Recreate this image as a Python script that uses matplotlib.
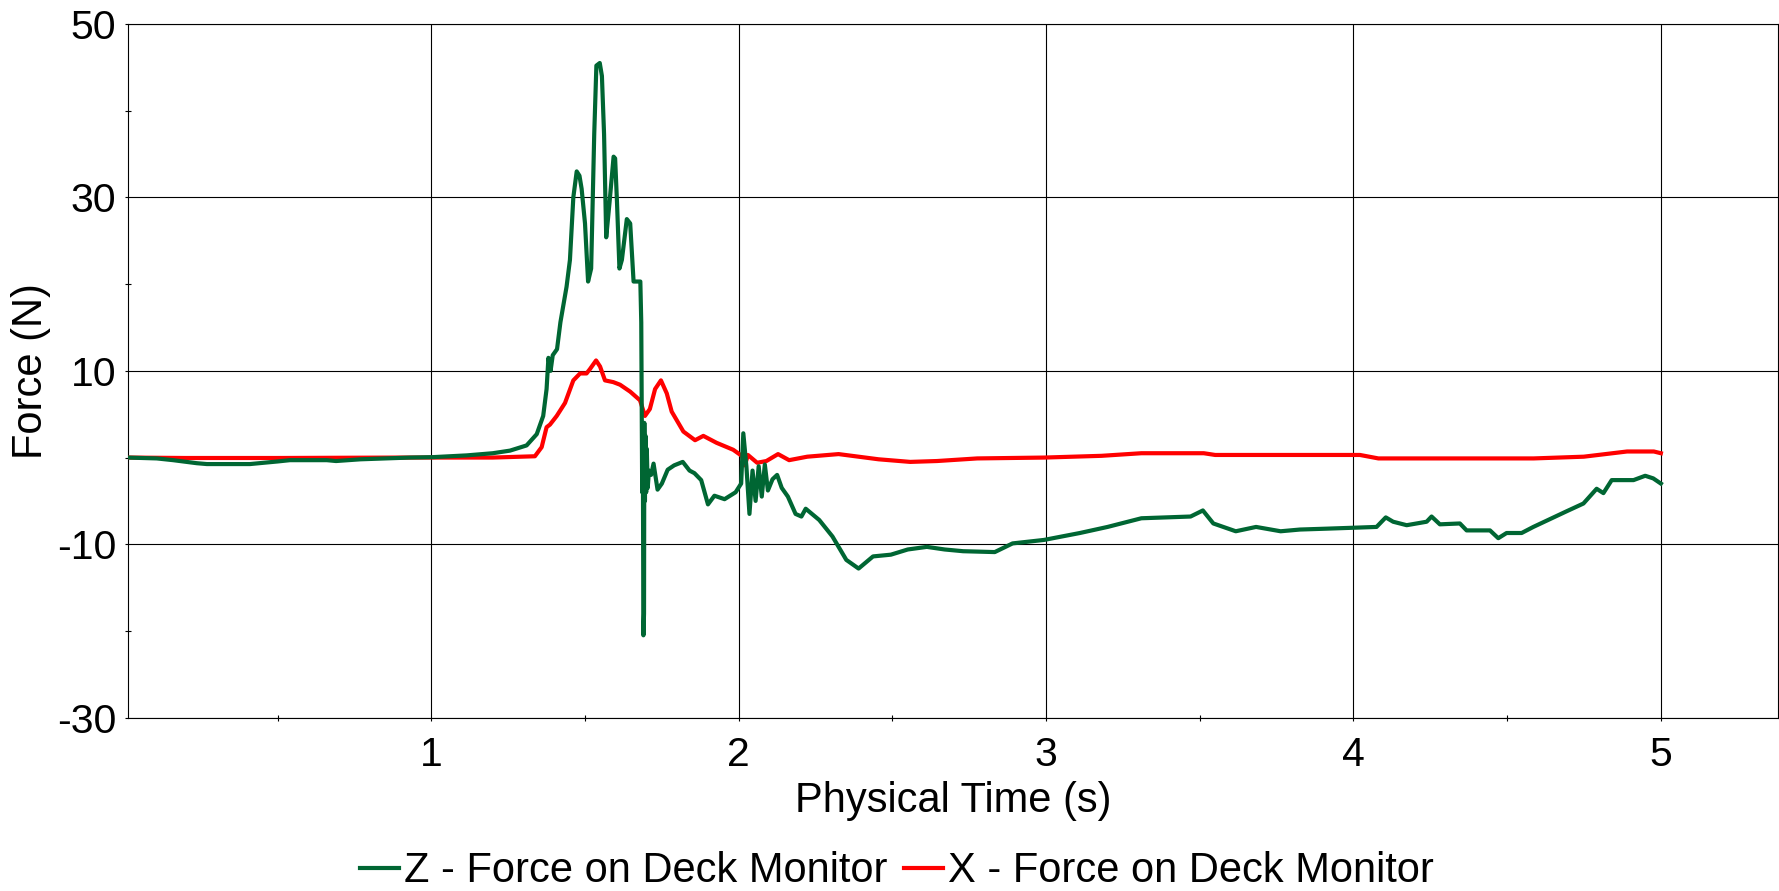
import matplotlib
matplotlib.use("Agg")
import matplotlib.pyplot as plt
from matplotlib.ticker import MultipleLocator

# ================= DATA =================
# Z force on the deck monitor (time in s, force in N)
Z_TIME = [0.013, 0.107, 0.16, 0.237, 0.27, 0.41, 0.50, 0.54, 0.66, 0.69, 0.77, 0.93,
          1.006, 1.115, 1.20, 1.256, 1.31, 1.343, 1.364, 1.375, 1.381, 1.388, 1.395,
          1.409, 1.42, 1.44, 1.451, 1.462, 1.473, 1.482, 1.489, 1.50, 1.51, 1.52,
          1.53, 1.537, 1.548, 1.555, 1.562, 1.569, 1.58, 1.593, 1.598, 1.604, 1.612,
          1.62, 1.636, 1.647, 1.658, 1.68, 1.683, 1.686, 1.688, 1.690, 1.692, 1.693,
          1.695, 1.697, 1.699, 1.701, 1.704, 1.708, 1.715, 1.723, 1.736, 1.75, 1.769,
          1.79, 1.818, 1.84, 1.856, 1.878, 1.90, 1.921, 1.954, 1.99, 2.008, 2.015,
          2.025, 2.035, 2.045, 2.055, 2.065, 2.075, 2.085, 2.095, 2.11, 2.125, 2.14,
          2.16, 2.185, 2.204, 2.218, 2.262, 2.305, 2.35, 2.39, 2.437, 2.495, 2.55,
          2.612, 2.67, 2.73, 2.833, 2.891, 2.993, 3.11, 3.2, 3.31, 3.47, 3.51, 3.544,
          3.617, 3.683, 3.763, 3.826, 3.913, 4.075, 4.105, 4.129, 4.173, 4.238, 4.254,
          4.281, 4.346, 4.368, 4.444, 4.471, 4.498, 4.547, 4.585, 4.693, 4.748, 4.791,
          4.813, 4.84, 4.911, 4.949, 4.975, 5.0]
Z_FORCE = [0.0, -0.1, -0.3, -0.65, -0.75, -0.75, -0.45, -0.3, -0.3, -0.4, -0.2, 0.0,
           0.05, 0.25, 0.5, 0.8, 1.4, 2.7, 4.8, 7.9, 11.5, 10.0, 11.8,
           12.5, 15.6, 19.7, 22.8, 30.0, 33.0, 32.5, 31.0, 27.0, 20.3, 21.8,
           37.3, 45.2, 45.5, 44.0, 37.3, 25.4, 29.5, 34.7, 34.5, 29.5, 21.8,
           22.8, 27.5, 27.0, 20.3, 20.3, 15.6, -4.0, 3.0, -20.5, -18.0, 4.0,
           -5.0, 2.5, -4.0, 1.0, -3.5, -1.5, -2.0, -0.7, -3.7, -3.0, -1.4,
           -0.9, -0.5, -1.5, -1.8, -2.6, -5.4, -4.4, -4.8, -4.0, -3.0, 2.8,
           -1.0, -6.5, -1.5, -5.0, -1.0, -4.5, -0.8, -3.8, -2.5, -2.0, -3.5,
           -4.5, -6.5, -6.8, -5.9, -7.2, -9.1, -11.8, -12.8, -11.4, -11.2, -10.6,
           -10.3, -10.6, -10.8, -10.9, -9.9, -9.5, -8.7, -8.0, -7.0, -6.8, -6.1, -7.6,
           -8.5, -8.0, -8.5, -8.3, -8.2, -8.0, -6.9, -7.4, -7.8, -7.4, -6.8,
           -7.7, -7.6, -8.4, -8.4, -9.3, -8.7, -8.7, -8.0, -6.2, -5.3, -3.6,
           -4.1, -2.6, -2.6, -2.1, -2.4, -3.0]

# X force on the deck monitor
X_TIME = [0.013, 0.2, 0.5, 0.9, 1.2, 1.337, 1.359, 1.375, 1.386, 1.408, 1.435, 1.462,
          1.484, 1.505, 1.516, 1.536, 1.549, 1.565, 1.592, 1.614, 1.647, 1.679, 1.695,
          1.711, 1.728, 1.747, 1.766, 1.782, 1.82, 1.858, 1.885, 1.928, 1.982, 2.01,
          2.02, 2.03, 2.06, 2.09, 2.128, 2.164, 2.223, 2.325, 2.455, 2.558, 2.645,
          2.776, 2.994, 3.18, 3.31, 3.513, 3.55, 4.021, 4.081, 4.586, 4.749, 4.89,
          4.977, 5.0]
X_FORCE = [0.0, -0.05, -0.05, 0.0, 0.0, 0.15, 1.2, 3.5, 3.8, 4.8, 6.3, 8.9,
           9.7, 9.7, 10.2, 11.2, 10.5, 8.9, 8.7, 8.4, 7.6, 6.6, 4.8,
           5.6, 7.9, 8.9, 7.4, 5.3, 3.0, 2.0, 2.5, 1.7, 0.9, 0.2,
           -0.9, 0.3, -0.6, -0.4, 0.4, -0.3, 0.1, 0.4, -0.2, -0.5, -0.4,
           -0.1, 0.0, 0.2, 0.5, 0.5, 0.3, 0.3, -0.1, -0.1, 0.1, 0.7,
           0.7, 0.5]

Y_TICKS = [-30, -10, 10, 30, 50]
X_TICKS = [1, 2, 3, 4, 5]

GREEN = "#006633"
RED = "#ff0000"

plt.rcParams["font.family"] = ["Liberation Sans", "DejaVu Sans"]
plt.rcParams["axes.unicode_minus"] = False  # plain hyphen on negative ticks

fig = plt.figure(figsize=(17.79, 8.91), dpi=100)
ax = fig.add_axes([0.07195, 0.1945, 0.92732, 0.77857])

ax.plot(Z_TIME, Z_FORCE, color=GREEN, lw=3.0, zorder=4,
        label="Z - Force on Deck Monitor")
ax.plot(X_TIME, X_FORCE, color=RED, lw=3.0, zorder=3,
        label="X - Force on Deck Monitor")

ax.set_xlim(0.0133, 5.38)
ax.set_ylim(-30, 50)
ax.set_xticks(X_TICKS)
ax.set_yticks(Y_TICKS)
ax.xaxis.set_minor_locator(MultipleLocator(0.5))
ax.yaxis.set_minor_locator(MultipleLocator(10))

ax.grid(True, which="major", color="black", lw=0.8)
ax.set_axisbelow(True)
for sp in ax.spines.values():
    sp.set_color("black")
    sp.set_linewidth(0.8)

ax.tick_params(which="major", direction="out", length=2.5, width=0.8,
               labelsize=29.5, colors="black")
ax.tick_params(axis="y", which="major", pad=6)
ax.tick_params(axis="x", which="major", pad=11)
ax.tick_params(which="minor", direction="inout", length=5, width=0.8)

ax.set_xlabel("Physical Time (s)", fontsize=30, labelpad=5)
ax.set_ylabel("Force (N)", fontsize=30, labelpad=4)

fig.legend(loc="center", bbox_to_anchor=(0.504, 0.022), ncol=2, frameon=False,
           fontsize=30, handlelength=0.95, handletextpad=0.1, columnspacing=0.4,
           borderpad=0)

fig.savefig("out.png", dpi=100)
